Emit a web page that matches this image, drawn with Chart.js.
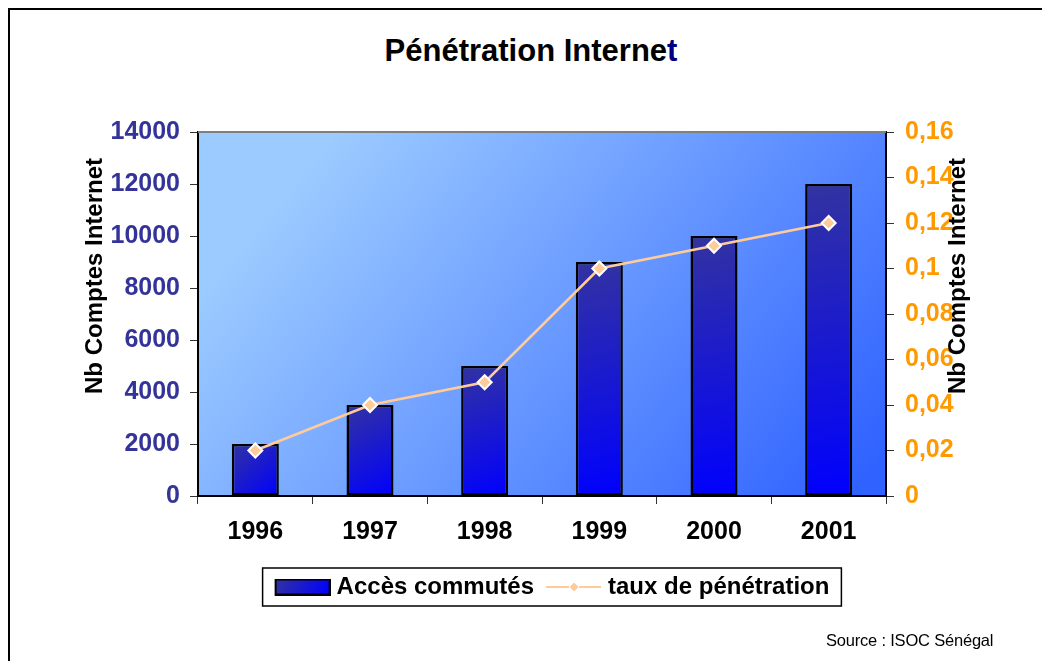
<!DOCTYPE html>
<html>
<head>
<meta charset="utf-8">
<script src="https://cdn.jsdelivr.net/npm/chart.js@4"></script>
<style>
  html, body { margin: 0; padding: 0; background: #fff; }
  #wrap { position: relative; width: 1042px; height: 661px; overflow: hidden; }
  #frame { position: absolute; left: 8px; top: 8px; width: 1100px; height: 700px;
           border-left: 2px solid #000; border-top: 2px solid #000; }
  #title { position: absolute; left: 0; width: 1062px; top: 33px; text-align: center;
           font: bold 31px "Liberation Sans", Arial, sans-serif; color: #000; }
  #title span { color: #000080; }
  #source { position: absolute; left: 826px; top: 631px;
            font: 16.5px "Liberation Sans", Arial, sans-serif; color: #000; letter-spacing: -0.2px; }
  canvas { position: absolute; left: 0; top: 0; }
</style>
</head>
<body>
<div id="wrap">
  <div id="frame"></div>
  <div id="title">Pénétration Interne<span>t</span></div>
  <canvas id="c" width="1042" height="661"></canvas>
  <div id="source">Source : ISOC Sénégal</div>
</div>
<script>
const years = ["1996", "1997", "1998", "1999", "2000", "2001"];
const accesCommutes = [2000, 3500, 5000, 9000, 10000, 12000];
const tauxPenetration = [0.02, 0.04, 0.05, 0.10, 0.11, 0.12];
const leftTicks = [0, 2000, 4000, 6000, 8000, 10000, 12000, 14000];
const rightTicks = [0, 0.02, 0.04, 0.06, 0.08, 0.1, 0.12, 0.14, 0.16];
const axisTitle = "Nb Comptes Internet";

const FONT = '"Liberation Sans", Arial, sans-serif';

// legend swatches: canvas wider than the legend box, drawing pushed right
// so the gap to the label text stays small
const barSwatch = document.createElement("canvas");
barSwatch.width = 62; barSwatch.height = 17;
(function () {
    const g = barSwatch.getContext("2d");
    const gr = g.createLinearGradient(6, 0, 62, 17);
    gr.addColorStop(0, "#3333a0");
    gr.addColorStop(1, "#0000ff");
    g.fillStyle = gr;
    g.fillRect(7, 1, 54, 15);
    g.strokeStyle = "#000";
    g.lineWidth = 2;
    g.strokeRect(7, 1, 54, 15);
})();
const lineSwatch = document.createElement("canvas");
lineSwatch.width = 62; lineSwatch.height = 14;
(function () {
    const g = lineSwatch.getContext("2d");
    g.strokeStyle = "#ffcc99";
    g.lineWidth = 2;
    g.beginPath(); g.moveTo(6, 7); g.lineTo(61, 7); g.stroke();
    g.fillStyle = "#ffcc99";
    g.strokeStyle = "#fff";
    g.lineWidth = 1;
    g.beginPath(); g.moveTo(34, 2); g.lineTo(39, 7); g.lineTo(34, 12); g.lineTo(29, 7); g.closePath();
    g.fill(); g.stroke();
})();

const plotDecor = {
    id: "plotDecor",
    beforeDraw(chart) {
        const { ctx, chartArea: a } = chart;
        const gr = ctx.createLinearGradient(a.left + a.width * 0.2, a.top, a.right - a.width * 0.1, a.bottom + 40);
        gr.addColorStop(0, "#9ccbff");
        gr.addColorStop(1, "#3062ff");
        ctx.save();
        ctx.fillStyle = gr;
        ctx.fillRect(a.left, a.top, a.width, a.height);
        ctx.restore();
    },
    afterDraw(chart) {
        const { ctx, chartArea: a } = chart;
        ctx.save();
        ctx.strokeStyle = "#808080";
        ctx.lineWidth = 2;
        ctx.beginPath(); ctx.moveTo(a.left, a.top); ctx.lineTo(a.right, a.top); ctx.stroke();

        // axis titles, both reading bottom to top
        ctx.fillStyle = "#000";
        ctx.font = "bold 24px " + FONT;
        ctx.textAlign = "center";
        ctx.textBaseline = "middle";
        [95, 958].forEach(x => {
            ctx.save();
            ctx.translate(x, 276);
            ctx.rotate(-Math.PI / 2);
            ctx.fillText(axisTitle, 0, 0);
            ctx.restore();
        });

        // legend frame
        const boxes = chart.legend.legendHitBoxes;
        if (boxes && boxes.length) {
            const l = boxes[0].left - 12;
            const last = boxes[boxes.length - 1];
            const r = last.left + last.width + 12;
            const t = boxes[0].top - 7;
            const b = boxes[0].top + boxes[0].height + 7;
            ctx.strokeStyle = "#000";
            ctx.lineWidth = 1.5;
            ctx.strokeRect(l, t, r - l, b - t);
        }
        ctx.restore();
    }
};

function barFill(context) {
    const chart = context.chart;
    const a = chart.chartArea;
    if (!a || context.type !== "data") return "#2222cc";
    const xs = chart.scales.x, ys = chart.scales.y;
    const cx = xs.getPixelForValue(context.dataIndex);
    const top = ys.getPixelForValue(accesCommutes[context.dataIndex]);
    const gr = chart.ctx.createLinearGradient(cx - 24, top, cx + 24, a.bottom);
    gr.addColorStop(0, "#3333a0");
    gr.addColorStop(1, "#0000ff");
    return gr;
}

new Chart(document.getElementById("c"), {
    data: {
        labels: years,
        datasets: [
            {
                type: "line",
                label: "taux de pénétration",
                data: tauxPenetration,
                yAxisID: "y1",
                order: 0,
                borderColor: "#ffcc99",
                borderWidth: 2.5,
                tension: 0,
                pointStyle: "rectRot",
                pointRadius: 7,
                pointBackgroundColor: "#ffcc99",
                pointBorderColor: "#ffffff",
                pointBorderWidth: 2
            },
            {
                type: "bar",
                label: "Accès commutés",
                data: accesCommutes,
                yAxisID: "y",
                order: 1,
                backgroundColor: barFill,
                borderColor: "#000",
                borderWidth: 2.5,
                borderSkipped: false,
                barPercentage: 0.41,
                categoryPercentage: 1
            }
        ]
    },
    options: {
        responsive: false,
        animation: false,
        layout: { padding: { top: 132, left: 62, right: 0, bottom: 52 } },
        plugins: {
            tooltip: { enabled: false },
            legend: {
                position: "bottom",
                labels: {
                    usePointStyle: true,
                    pointStyleWidth: 50,
                    color: "#000",
                    padding: 12,
                    font: { family: FONT, size: 24, weight: "bold" },
                    generateLabels: () => [
                        { text: "Accès commutés", pointStyle: barSwatch, datasetIndex: 1, hidden: false, lineWidth: 0 },
                        { text: "taux de pénétration", pointStyle: lineSwatch, datasetIndex: 0, hidden: false, lineWidth: 0 }
                    ]
                }
            }
        },
        scales: {
            x: {
                afterFit: s => { s.height = 67; },
                grid: { offset: true, drawOnChartArea: false, tickLength: 8, color: "#333" },
                border: { color: "#000", width: 2 },
                ticks: { color: "#000", padding: 13, font: { family: FONT, size: 25, weight: "bold" } }
            },
            y: {
                position: "left",
                min: 0, max: 14000,
                afterFit: s => { s.width = 136; },
                afterBuildTicks: s => { s.ticks = leftTicks.map(v => ({ value: v })); },
                grid: { drawOnChartArea: false, tickLength: 8, color: "#333" },
                border: { color: "#000", width: 2 },
                ticks: {
                    color: "#333399", padding: 10,
                    font: { family: FONT, size: 25, weight: "bold" },
                    callback: v => String(v)
                }
            },
            y1: {
                position: "right",
                min: 0, max: 0.16,
                afterFit: s => { s.width = 156; },
                afterBuildTicks: s => { s.ticks = rightTicks.map(v => ({ value: v })); },
                grid: { drawOnChartArea: false, tickLength: 8, color: "#333" },
                border: { color: "#000", width: 2 },
                ticks: {
                    color: "#ff9900", padding: 11,
                    font: { family: FONT, size: 25, weight: "bold" },
                    callback: v => String(Math.round(v * 100) / 100).replace(".", ",")
                }
            }
        }
    },
    plugins: [plotDecor]
});
</script>
</body>
</html>
